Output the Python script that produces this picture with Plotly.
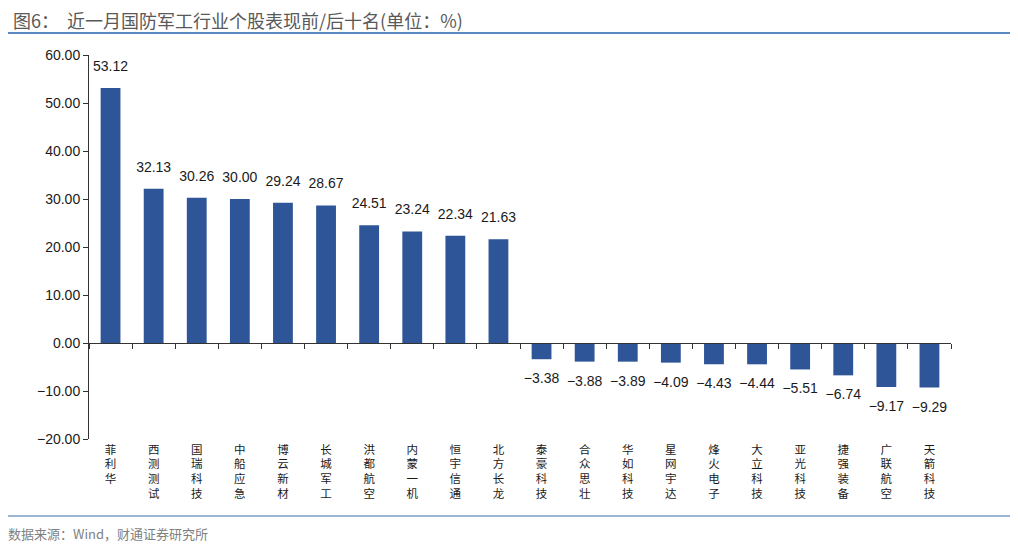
import plotly.graph_objects as go

categories = ["菲利华", "西测测试", "国瑞科技", "中船应急", "博云新材", "长城军工", "洪都航空", "内蒙一机", "恒宇信通", "北方长龙",
              "泰豪科技", "合众思壮", "华如科技", "星网宇达", "烽火电子", "大立科技", "亚光科技", "捷强装备", "广联航空", "天箭科技"]
values = [53.12, 32.13, 30.26, 30.00, 29.24, 28.67, 24.51, 23.24, 22.34, 21.63,
          -3.38, -3.88, -3.89, -4.09, -4.43, -4.44, -5.51, -6.74, -9.17, -9.29]
tick_labels = ["<br>".join(list(c)) for c in categories]
value_labels = [f"{v:.2f}".replace("-", "\u2212") for v in values]

FONT = "Liberation Sans, Arial, Noto Sans CJK SC, sans-serif"
CJK = "Noto Sans CJK SC, Liberation Sans, sans-serif"
BAR = "#2E5597"

# page has an 8px body margin: figure is drawn at offset (8, 8)
W, H = 1010, 539
L, T, R, B = 81, 47, 67, 108
PW, PH = W - L - R, H - T - B


def px(x_page):
    return (x_page - 8 - L) / PW


def py(y_page):
    return (H - B - (y_page - 8)) / PH


fig = go.Figure()
fig.add_trace(go.Bar(
    x=categories, y=values, marker_color=BAR, marker_line_width=0, width=0.46,
    xaxis="x", yaxis="y", showlegend=False, hoverinfo="x+y",
))
fig.add_trace(go.Scatter(
    x=categories, y=values, mode="markers+text", marker=dict(opacity=0, size=20),
    text=value_labels, textposition=["top center" if v >= 0 else "bottom center" for v in values],
    textfont=dict(family=FONT, size=14, color="#1a1a1a"), cliponaxis=False,
    hoverinfo="skip", xaxis="x2", yaxis="y", showlegend=False,
))

fig.update_layout(
    width=W, height=H,
    margin=dict(l=L, r=R, t=T, b=B),
    plot_bgcolor="white", paper_bgcolor="white",
    font=dict(family=FONT, size=14, color="#1a1a1a"),
    xaxis=dict(type="category", anchor="free", position=0.25, showline=True, linecolor="#333", linewidth=1,
               ticks="outside", tickson="boundaries", ticklen=5, tickcolor="#333",
               showticklabels=False, showgrid=False, zeroline=False, range=[-0.5, 19.5]),
    xaxis2=dict(type="category", overlaying="x", side="bottom", anchor="y", showline=False, ticks="",
                showgrid=False, zeroline=False, range=[-0.5, 19.5],
                tickvals=categories, ticktext=tick_labels, ticklabelstandoff=2,
                tickfont=dict(family=CJK, size=11.5, color="#1a1a1a")),
    yaxis=dict(range=[-20, 60], dtick=10, tickformat=".2f", showline=True, linecolor="#333", linewidth=1,
               ticks="outside", ticklen=5, tickcolor="#333", showgrid=False, zeroline=False,
               tickfont=dict(family=FONT, size=14, color="#1a1a1a"), domain=[0, 1]),
    shapes=[
        dict(type="line", xref="paper", yref="paper", x0=px(0), x1=px(1013),
             y0=py(33), y1=py(33), line=dict(color="#2462AE", width=1.5)),
        dict(type="line", xref="paper", yref="paper", x0=px(0), x1=px(1013),
             y0=py(516), y1=py(516), line=dict(color="#7D9CC8", width=1.5)),
    ],
    annotations=[
        dict(text="图6：  近一月国防军工行业个股表现前/后十名(单位：%)", xref="paper", yref="paper",
             x=px(11), y=py(20), xanchor="left", yanchor="middle", showarrow=False,
             font=dict(family=CJK, size=18, color="#595959")),
        dict(text="数据来源：Wind，财通证券研究所", xref="paper", yref="paper",
             x=px(6), y=py(533), xanchor="left", yanchor="middle", showarrow=False,
             font=dict(family=CJK, size=13, color="#7f7f7f")),
    ],
)

fig.write_html("out.html")
